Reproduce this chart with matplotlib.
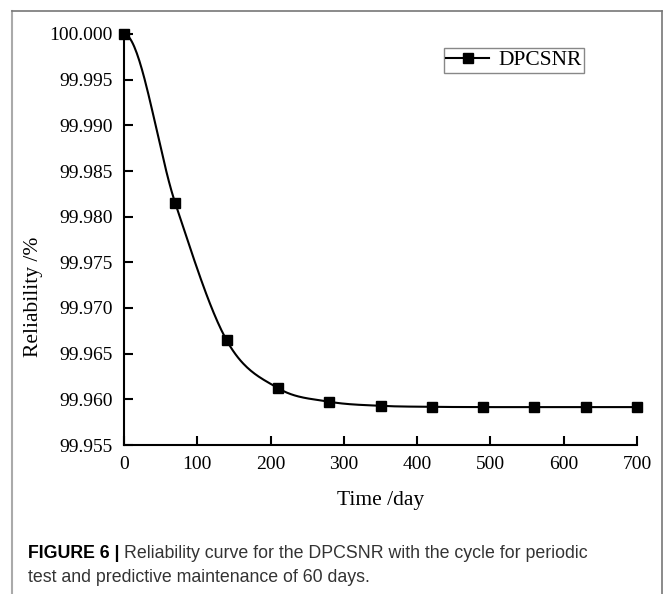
import numpy as np
import matplotlib
matplotlib.use("Agg")
import matplotlib.pyplot as plt
from matplotlib.lines import Line2D

# ---- data ----
time_days = [0, 70, 140, 210, 280, 350, 420, 490, 560, 630, 700]
reliability = [100.000, 99.98146, 99.96647, 99.96123, 99.95974, 99.95929,
               99.95918, 99.95915, 99.95915, 99.95915, 99.95915]
x_ticks = [0, 100, 200, 300, 400, 500, 600, 700]
y_ticks = [99.955, 99.960, 99.965, 99.970, 99.975, 99.980, 99.985, 99.990, 99.995, 100.000]
series_name = "DPCSNR"


def smooth_curve(x, y, n=40):
    """Cubic Hermite curve through the points (Catmull-Rom tangents, flat ends)."""
    x = np.asarray(x, float)
    y = np.asarray(y, float)
    m = np.zeros_like(y)
    m[1:-1] = (y[2:] - y[:-2]) / (x[2:] - x[:-2])
    xs, ys = [], []
    for i in range(len(x) - 1):
        h = x[i + 1] - x[i]
        t = np.linspace(0, 1, n, endpoint=(i == len(x) - 2))
        h00 = 2 * t**3 - 3 * t**2 + 1
        h10 = t**3 - 2 * t**2 + t
        h01 = -2 * t**3 + 3 * t**2
        h11 = t**3 - t**2
        xs.append(x[i] + t * h)
        ys.append(h00 * y[i] + h10 * h * m[i] + h01 * y[i + 1] + h11 * h * m[i + 1])
    return np.concatenate(xs), np.concatenate(ys)


W, H = 665, 594
fig = plt.figure(figsize=(W / 100, H / 100), dpi=100)

serif = ["Liberation Serif", "DejaVu Serif"]
sans = ["Liberation Sans", "DejaVu Sans"]

ax_left, ax_right, ax_top, ax_bottom = 124, 637, 34, 445
ax = fig.add_axes([ax_left / W, 1 - ax_bottom / H,
                   (ax_right - ax_left) / W, (ax_bottom - ax_top) / H])

cx, cy = smooth_curve(time_days, reliability)
ax.plot(cx, cy, color="black", lw=1.5, zorder=2)
ax.plot(time_days, reliability, linestyle="none", marker="s", markersize=7.2,
        color="black", zorder=3, clip_on=False)

ax.set_xlim(0, 700)
ax.set_ylim(99.955, 100.000)
ax.set_xticks(x_ticks)
ax.set_yticks(y_ticks)
ax.set_xticklabels([str(v) for v in x_ticks], fontfamily=serif, fontsize=14)
ax.set_yticklabels([f"{v:.3f}" for v in y_ticks], fontfamily=serif, fontsize=14)

for s in ["top", "right"]:
    ax.spines[s].set_visible(False)
for s in ["left", "bottom"]:
    ax.spines[s].set_linewidth(1.5)
    ax.spines[s].set_color("black")

ax.tick_params(axis="both", direction="in", length=6.5, width=1.5, colors="black")
ax.tick_params(axis="y", pad=8)
ax.tick_params(axis="x", pad=8)

ax.set_xlabel("Time /day", fontfamily=serif, fontsize=15.5, labelpad=13)
ax.set_ylabel("Reliability /%", fontfamily=serif, fontsize=15.5)
ax.yaxis.set_label_coords(43 / W, 0.5, transform=fig.transFigure)

handle = Line2D([], [], color="black", lw=1.5, marker="s", markersize=7.2)
leg = ax.legend([handle], [series_name], loc="upper right",
                bbox_to_anchor=(584 / W, 1 - 47.7 / H),
                bbox_transform=fig.transFigure, borderaxespad=0,
                prop={"family": serif, "size": 15.5}, fancybox=False,
                frameon=True, handlelength=2.0, handletextpad=0.4,
                borderpad=0.12, framealpha=1)
leg.get_frame().set_edgecolor("#888888")
leg.get_frame().set_linewidth(1.0)

# outer border of the figure panel
fig.add_artist(Line2D([12 / W, 12 / W], [0, 1 - 11 / H], transform=fig.transFigure,
                      color="#aaaaaa", lw=1.5))
fig.add_artist(Line2D([12 / W, 662 / W], [1 - 11 / H, 1 - 11 / H], transform=fig.transFigure,
                      color="#777777", lw=1.2))
fig.add_artist(Line2D([662 / W, 662 / W], [1 - 11 / H, 0], transform=fig.transFigure,
                      color="#777777", lw=1.2))

# caption
cap_x = 28 / W
t1 = fig.text(cap_x, 1 - 553 / H, "FIGURE 6 |", fontfamily=sans, fontsize=12.8,
              fontweight="bold", color="black", va="center", ha="left")
fig.canvas.draw()
bb = t1.get_window_extent()
fig.text(bb.x1 / W + 4 / W, 1 - 553 / H,
         "Reliability curve for the DPCSNR with the cycle for periodic",
         fontfamily=sans, fontsize=12.8, color="#333333", va="center", ha="left")
fig.text(cap_x, 1 - 577 / H, "test and predictive maintenance of 60 days.",
         fontfamily=sans, fontsize=12.8, color="#333333", va="center", ha="left")

fig.savefig("out.png", dpi=100)
